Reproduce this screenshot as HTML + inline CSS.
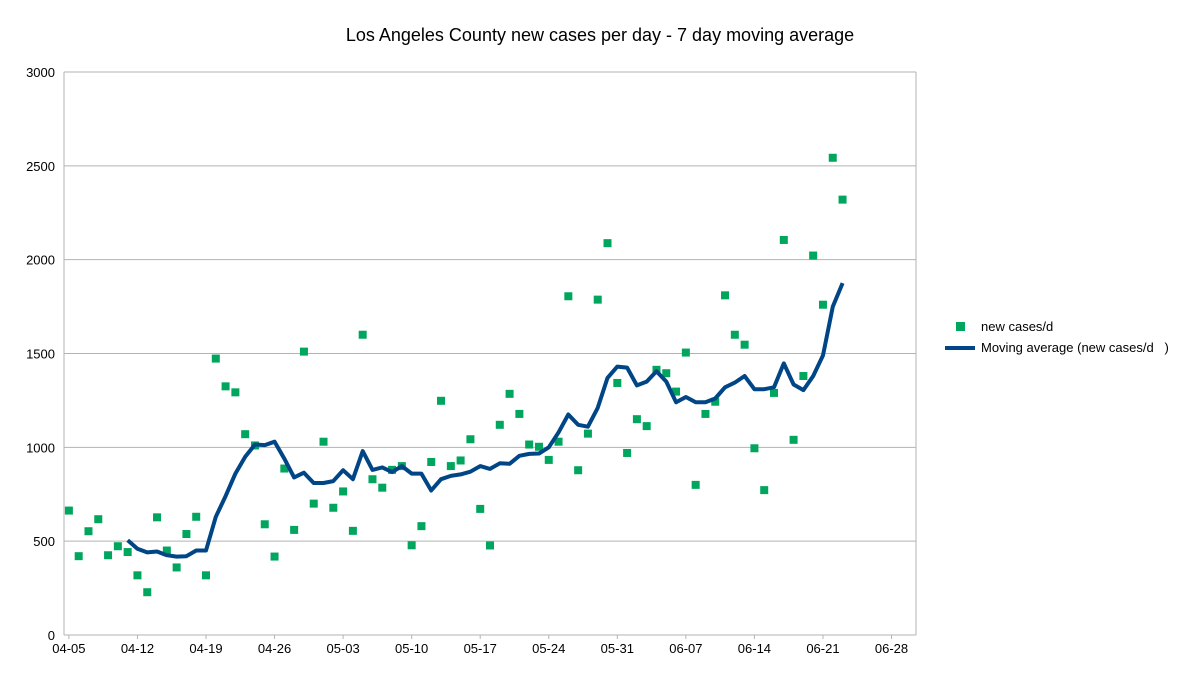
<!DOCTYPE html>
<html><head><meta charset="utf-8"><style>
body{margin:0;background:#fff;}
svg{display:block;font-family:"Liberation Sans",sans-serif;}
</style></head><body>
<svg id="chart" width="1200" height="674">
<text x="600" y="41" font-size="18" text-anchor="middle" fill="#000">Los Angeles County new cases per day - 7 day moving average</text>
<g id="grid"></g><g id="marks"></g><g id="labels"></g>
<g>
<rect x="956" y="322" width="9" height="9" fill="#00a65d"/>
<text x="981" y="331" font-size="13" fill="#000">new cases/d</text>
<line x1="945" y1="348" x2="975" y2="348" stroke="#004586" stroke-width="4"/>
<text x="981" y="352" font-size="13" fill="#000" xml:space="preserve">Moving average (new cases/d   )</text>
</g>
</svg>
<script>
const dailyCases=[663,420,553,617,425,473,442,318,228,627,450,360,538,630,318,1473,1325,1293,1070,1010,590,418,887,560,1510,700,1030,678,765,555,1600,830,785,880,900,478,580,922,1248,900,930,1043,672,477,1120,1285,1178,1015,1003,933,1030,1805,878,1073,1787,2088,1343,970,1150,1113,1413,1395,1297,1505,800,1178,1243,1810,1600,1547,995,772,1290,2105,1040,1380,2022,1760,2543,2320];
const movingAvgStart=6;
const movingAvg=[505,460,440,445,425,418,420,450,450,630,740,860,950,1015,1012,1030,940,840,865,810,810,820,878,830,980,880,893,868,900,860,860,770,830,848,856,870,900,885,915,912,955,965,967,1000,1080,1175,1120,1110,1210,1370,1430,1425,1330,1350,1405,1350,1240,1268,1240,1240,1260,1320,1345,1380,1310,1310,1320,1447,1335,1305,1380,1490,1750,1875];
const yTicks=[0,500,1000,1500,2000,2500,3000];
const xTickLabels=["04-05","04-12","04-19","04-26","05-03","05-10","05-17","05-24","05-31","06-07","06-14","06-21","06-28"];
const NS="http://www.w3.org/2000/svg";
const L=64,R=916,T=72,B=635,days=87,yMax=3000;
const x=d=>L+(d+0.5)*(R-L)/days;
const y=v=>B-v/yMax*(B-T);
function mk(tag,attrs,parent){const e=document.createElementNS(NS,tag);for(const k in attrs)e.setAttribute(k,attrs[k]);parent.appendChild(e);return e;}
const grid=document.getElementById('grid'),marks=document.getElementById('marks'),labels=document.getElementById('labels');
yTicks.forEach(v=>{
 const g=mk('line',{x1:L,x2:R,y1:y(v),y2:y(v),stroke:'#b3b3b3','stroke-width':1},grid);
 
 
 const t=mk('text',{x:L-9,y:y(v)+5,'font-size':13,'text-anchor':'end',fill:'#000'},labels);
 t.textContent=v;
 
 
});
const ax=mk('line',{x1:L,x2:L,y1:T,y2:B,stroke:'#b3b3b3'},grid);


const ax2=mk('line',{x1:R,x2:R,y1:T,y2:B,stroke:'#b3b3b3'},grid);


xTickLabels.forEach((s,i)=>{
 const d=i*7;
 const tk=mk('line',{x1:x(d),x2:x(d),y1:B,y2:B+4,stroke:'#b3b3b3'},grid);
 
 
 const t=mk('text',{x:x(d),y:B+18,'font-size':13,'text-anchor':'middle',fill:'#000'},labels);
 t.textContent=s;
 
 
});
dailyCases.forEach((v,i)=>{
 const r=mk('rect',{x:x(i)-4,y:y(v)-4,width:8,height:8,fill:'#00a65d'},marks);
 
 
});
const pts=movingAvg.map((v,i)=>x(i+movingAvgStart).toFixed(1)+','+y(v).toFixed(1)).join(' ');
const pl=mk('polyline',{points:pts,fill:'none',stroke:'#004586','stroke-width':4,'stroke-linejoin':'round'},marks);


</script>
</body></html>
